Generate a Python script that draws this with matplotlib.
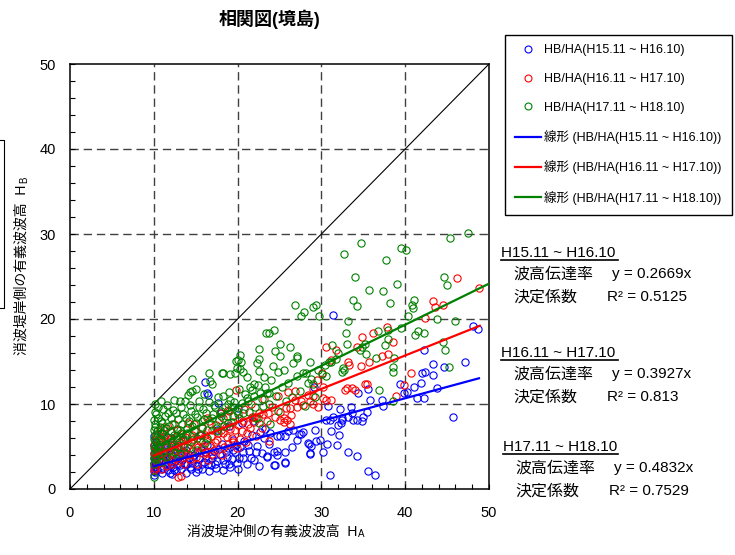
import matplotlib

matplotlib.use("Agg")

from matplotlib import pyplot as plt
from matplotlib.lines import Line2D
from matplotlib.ticker import MultipleLocator

plt.rcParams["font.family"] = ["Liberation Sans", "Noto Sans CJK JP"]

TITLE = "相関図(境島)"
X_LABEL = "消波堤沖側の有義波波高  H"
Y_LABEL = "消波堤岸側の有義波波高  H"
PERIODS = ["H15.11 ~ H16.10", "H16.11 ~ H17.10", "H17.11 ~ H18.10"]
SCATTER_LABELS = ["HB/HA(H15.11 ~ H16.10)", "HB/HA(H16.11 ~ H17.10)", "HB/HA(H17.11 ~ H18.10)"]
TREND_LABELS = ["線形 (HB/HA(H15.11 ~ H16.10))", "線形 (HB/HA(H16.11 ~ H17.10))", "線形 (HB/HA(H17.11 ~ H18.10))"]
SLOPES = [0.2669, 0.3927, 0.4832]
R2_TEXT = ["0.5125", "0.813", "0.7529"]
TREND_X_MIN = [10.0, 10.0, 10.0]
TREND_X_MAX = [48.8, 48.9, 50.0]
COLORS = ["#0000ff", "#ff0000", "#008000"]

blue_points = [
    (10.0, 1.6), (10.0, 2.1), (10.1, 2.6), (10.0, 3.1), (10.2, 3.6), (10.0, 4.2), (10.1, 4.8), (10.3, 5.5),
    (10.0, 6.2), (10.4, 2.3), (10.5, 2.9), (10.6, 3.4), (10.8, 4.0), (10.7, 4.6), (11.0, 1.9), (11.1, 2.5),
    (11.3, 3.1), (11.2, 3.8), (11.5, 4.4), (11.4, 5.3), (11.7, 2.2), (11.9, 2.8), (11.8, 3.5), (12.0, 4.1),
    (12.2, 1.8), (12.3, 2.6), (12.5, 3.3), (12.4, 4.7), (12.7, 2.1), (12.9, 3.0), (13.0, 3.8), (13.2, 2.4),
    (13.4, 3.4), (13.6, 4.4), (13.8, 1.9), (14.0, 2.9), (14.2, 3.6), (14.4, 2.3), (14.6, 3.1), (14.8, 4.0),
    (15.0, 2.0), (15.2, 2.7), (15.4, 3.5), (15.6, 4.6), (15.8, 2.4), (16.0, 3.2), (16.1, 12.6), (16.3, 11.3),
    (16.5, 11.1), (16.2, 3.9), (16.4, 5.2), (16.6, 2.1), (16.8, 2.8), (17.0, 3.6), (17.2, 4.5), (17.4, 2.5),
    (17.7, 10.1), (17.6, 3.3), (17.9, 4.1), (18.1, 5.3), (18.3, 2.2), (18.5, 3.0), (18.7, 3.8), (18.9, 4.8),
    (19.1, 2.6), (19.3, 3.5), (19.5, 5.8), (19.7, 4.3), (19.9, 3.1), (20.1, 2.4), (20.3, 4.9), (20.6, 3.7),
    (20.8, 5.6), (21.1, 2.9), (21.4, 4.5), (21.7, 6.4), (22.0, 3.4), (22.3, 5.1), (22.6, 2.7), (22.9, 4.2),
    (23.2, 6.0), (23.5, 3.9), (23.8, 5.3), (24.3, 4.4), (24.3, 2.8), (24.7, 4.5), (25.7, 4.4), (25.7, 3.1),
    (26.5, 5.0), (25.0, 6.2), (26.0, 6.8), (27.3, 6.5), (27.8, 6.7), (28.5, 5.3), (28.8, 5.1), (28.6, 4.1),
    (29.2, 6.9), (29.4, 5.6), (29.1, 12.0), (30.2, 4.3), (30.7, 5.3), (31.0, 1.7), (31.0, 8.1), (30.8, 9.8),
    (31.2, 6.8), (31.4, 20.5), (31.9, 5.2), (32.0, 7.5), (32.1, 6.4), (32.2, 9.4), (32.3, 7.8), (32.5, 8.3),
    (33.2, 4.3), (33.5, 9.7), (33.6, 8.9), (33.8, 8.1), (34.3, 3.9), (34.4, 11.3), (34.8, 8.0), (35.6, 11.8),
    (35.6, 2.1), (35.8, 10.5), (36.4, 1.7), (37.2, 10.5), (37.3, 9.8), (39.4, 12.3), (39.9, 11.3), (40.2, 11.4),
    (41.0, 12.0), (41.4, 10.7), (41.9, 12.5), (42.0, 13.6), (42.3, 10.7), (42.3, 16.3), (42.4, 13.8), (43.3, 13.4),
    (43.3, 14.7), (43.8, 11.9), (44.6, 14.4), (45.7, 8.5), (47.1, 15.0), (48.1, 19.2), (48.7, 18.8),
    (22.7, 6.7), (23.3, 7.1), (23.9, 6.6), (24.7, 6.2), (25.7, 6.2), (26.6, 6.9), (27.1, 5.8), (27.6, 6.5),
    (28.4, 5.4), (29.8, 5.8), (30.6, 8.1), (31.4, 8.5), (32.4, 8.1), (33.2, 8.5), (34.2, 8.1), (35.0, 8.5),
    (35.4, 9.1), (23.5, 3.8), (24.7, 4.0), (24.5, 2.8), (25.7, 3.2), (28.6, 4.2), (15.5, 6.4), (17.5, 7.0),
    (19.0, 7.4), (20.5, 7.8), (21.8, 8.0), (13.5, 5.8), (12.0, 6.0), (11.0, 6.6), (18.0, 9.0), (20.0, 9.5),
    (10.1, 2.0), (10.2, 3.3), (10.3, 4.0), (10.5, 5.0), (10.9, 2.3), (11.1, 3.4), (11.3, 4.7), (11.6, 3.0),
    (11.9, 1.9), (12.1, 3.2), (12.4, 2.2), (12.6, 3.7), (12.8, 4.9), (13.1, 2.8), (13.3, 4.0), (13.7, 3.0),
    (13.9, 4.6), (14.3, 2.6), (14.7, 3.5), (15.1, 4.3), (15.3, 2.3), (15.7, 3.0), (16.1, 4.4), (16.5, 3.0),
    (16.9, 4.0), (17.3, 3.0), (17.8, 4.7), (18.2, 3.4), (18.6, 4.3), (19.0, 3.0), (19.4, 4.6), (19.8, 5.2),
    (20.2, 3.6), (20.7, 4.3), (21.2, 5.2), (21.6, 3.6), (22.2, 4.4), (10.0, 2.6), (10.0, 3.7), (10.0, 5.2),
]

red_points = [
    (10.0, 2.2), (10.0, 2.9), (10.1, 3.5), (10.0, 4.1), (10.2, 4.6), (10.0, 5.2), (10.1, 5.8), (10.3, 6.4),
    (10.4, 3.1), (10.5, 3.9), (10.6, 4.8), (10.8, 5.5), (10.7, 7.0), (11.0, 3.4), (11.1, 4.3), (11.3, 5.0),
    (11.2, 6.1), (11.5, 2.7), (11.6, 3.8), (11.8, 4.6), (11.7, 5.6), (12.0, 6.7), (12.1, 3.3), (12.3, 4.2),
    (12.5, 5.1), (12.4, 7.6), (12.9, 1.4), (13.2, 1.5), (12.8, 3.7), (13.0, 4.7), (13.2, 5.7), (13.4, 6.5),
    (13.6, 2.9), (13.8, 4.0), (14.0, 5.0), (14.1, 7.8), (14.3, 3.5), (14.5, 4.5), (14.7, 5.9), (14.9, 6.8),
    (15.1, 3.0), (15.3, 4.9), (15.5, 5.6), (15.7, 7.2), (15.9, 4.2), (16.1, 6.3), (16.3, 8.4), (16.5, 3.4),
    (16.7, 5.2), (16.9, 6.9), (17.2, 4.6), (17.4, 7.5), (17.6, 5.8), (17.9, 8.9), (18.1, 4.0), (18.3, 6.6),
    (18.6, 7.3), (18.8, 5.3), (19.0, 9.2), (19.3, 6.0), (19.5, 7.9), (19.8, 11.6), (19.9, 4.8), (20.2, 8.3),
    (20.5, 6.8), (20.8, 9.4), (21.0, 5.5), (21.3, 7.6), (21.6, 10.0), (21.9, 8.5), (22.2, 6.2), (22.6, 9.0),
    (22.9, 7.2), (23.2, 10.6), (23.5, 8.0), (23.8, 5.7), (24.1, 9.6), (24.5, 8.5), (24.8, 10.9), (25.1, 8.1),
    (25.5, 7.9), (25.8, 9.5), (26.4, 8.7), (26.0, 11.4), (26.9, 10.5), (26.9, 11.5), (27.6, 10.3), (27.8, 9.9),
    (28.4, 11.1), (29.0, 10.9), (29.0, 10.0), (29.0, 11.8), (29.5, 12.8), (30.1, 13.6), (30.2, 12.0), (30.6, 10.5),
    (31.2, 10.5), (30.6, 16.7), (31.8, 16.4), (31.2, 15.2), (33.1, 11.9), (33.6, 11.9), (33.2, 14.9), (33.3, 14.6),
    (34.2, 16.7), (34.7, 14.5), (34.8, 17.9), (35.2, 12.4), (35.5, 12.4), (35.7, 14.9), (36.1, 18.4), (37.2, 15.7),
    (37.9, 15.9), (37.8, 19.1), (38.6, 17.3), (38.9, 10.9), (39.9, 12.2), (40.7, 13.7), (42.4, 20.1), (43.3, 22.1),
    (43.6, 21.4), (44.5, 21.7), (46.2, 24.8), (48.8, 23.7), (30.2, 10.7), (29.6, 9.7), (28.6, 10.3), (27.1, 9.7),
    (26.3, 9.5), (25.1, 9.1), (25.5, 8.3), (25.9, 8.1), (26.3, 7.7), (32.8, 11.6), (34.0, 11.6), (18.8, 9.3),
    (21.7, 8.5), (10.2, 2.5), (10.4, 4.4), (10.6, 5.3), (10.9, 6.0), (11.0, 2.4), (11.4, 3.5), (11.6, 4.9),
    (11.9, 5.9), (12.2, 2.9), (12.6, 4.5), (12.8, 5.9), (13.1, 3.3), (13.3, 4.3), (13.5, 5.2), (13.7, 6.1),
    (14.2, 4.0), (14.4, 5.5), (14.6, 6.3), (15.0, 3.8), (15.2, 5.2), (15.6, 6.4), (15.8, 5.0), (16.2, 4.4),
    (16.4, 5.8), (16.8, 6.2), (17.0, 4.1), (17.3, 5.5), (17.7, 6.6), (18.0, 7.0), (18.4, 5.0), (18.7, 6.1),
    (19.1, 7.1), (19.4, 5.5), (19.7, 6.9), (20.0, 7.5), (20.3, 5.9), (20.7, 8.0), (21.1, 6.6), (21.5, 7.2),
    (22.0, 7.9), (22.4, 8.4), (23.0, 8.8), (23.6, 9.0), (11.2, 7.3), (12.8, 7.0), (14.8, 7.6), (16.6, 8.0),
    (18.2, 8.4),
]

green_points = [
    (10.0, 1.4), (10.0, 3.0), (10.0, 3.6), (10.1, 4.2), (10.0, 4.8), (10.2, 5.3), (10.0, 5.9), (10.1, 6.4),
    (10.0, 7.0), (10.2, 7.6), (10.0, 8.1), (10.1, 9.1), (10.1, 10.0), (10.3, 3.4), (10.4, 4.5), (10.5, 5.1),
    (10.6, 6.0), (10.4, 6.8), (10.7, 7.3), (10.5, 8.4), (10.9, 10.3), (10.8, 4.0), (11.0, 5.6), (11.1, 6.5),
    (11.2, 7.0), (11.0, 7.8), (11.3, 8.6), (11.4, 3.8), (11.5, 4.9), (11.6, 6.1), (11.8, 7.4), (11.7, 8.9),
    (12.0, 5.2), (12.1, 6.8), (12.2, 7.7), (12.4, 10.5), (12.3, 9.3), (12.5, 4.4), (12.6, 6.0), (12.8, 7.1),
    (12.9, 8.2), (13.0, 5.5), (13.1, 10.3), (13.2, 6.6), (13.4, 7.6), (13.5, 8.8), (13.7, 10.4), (13.6, 5.0),
    (13.9, 6.3), (14.0, 7.2), (14.1, 11.1), (14.3, 11.4), (14.5, 11.5), (14.5, 12.9), (14.2, 8.0), (14.4, 9.2),
    (14.6, 5.8), (14.8, 6.9), (15.0, 7.8), (15.2, 8.5), (15.4, 9.6), (15.1, 4.6), (15.6, 6.4), (15.8, 7.3),
    (16.0, 8.2), (16.2, 9.0), (16.6, 13.7), (16.7, 12.7), (17.0, 12.4), (16.4, 6.0), (16.8, 7.6), (17.1, 8.8),
    (17.3, 9.6), (17.5, 6.8), (17.8, 8.1), (18.1, 13.7), (18.3, 13.6), (18.0, 9.2), (18.4, 7.4), (18.7, 8.6),
    (18.9, 10.0), (19.1, 13.5), (19.1, 10.5), (19.5, 9.7), (19.2, 7.9), (19.7, 13.6), (19.9, 14.2), (19.8, 15.1),
    (20.1, 15.2), (20.3, 15.8), (20.4, 14.9), (20.3, 14.1), (20.6, 13.8), (21.1, 13.2), (20.0, 8.8), (20.5, 10.1),
    (21.1, 10.7), (21.4, 9.1), (21.9, 10.9), (22.5, 16.5), (22.3, 14.8), (22.6, 15.3), (22.5, 13.9), (22.7, 11.3),
    (22.2, 8.4), (23.0, 9.8), (23.7, 11.3), (23.4, 18.4), (23.7, 18.3), (24.3, 18.7), (24.5, 16.2), (25.1, 17.1),
    (24.2, 14.5), (24.8, 13.8), (25.3, 12.0), (25.8, 10.4), (26.3, 16.7), (27.1, 15.4), (26.8, 21.7), (27.6, 20.3),
    (27.9, 20.8), (27.8, 13.6), (27.1, 13.3), (28.2, 13.6), (28.4, 12.5), (28.6, 14.9), (29.0, 12.4), (29.0, 21.4),
    (29.4, 21.7), (29.7, 20.3), (30.1, 13.5), (30.5, 13.3), (30.9, 14.9), (31.3, 16.9), (32.0, 16.0), (32.4, 13.8),
    (32.6, 14.2), (32.7, 14.0), (32.7, 27.6), (32.9, 18.3), (33.1, 17.1), (33.2, 19.8), (33.8, 22.2), (34.0, 25.0),
    (34.2, 21.5), (34.6, 16.3), (34.7, 29.0), (34.8, 16.7), (35.2, 17.1), (35.3, 15.9), (35.7, 23.4), (36.5, 15.4),
    (36.7, 18.6), (36.9, 11.6), (37.4, 23.3), (37.6, 16.9), (37.7, 27.0), (37.9, 17.6), (38.0, 18.7), (38.2, 21.9),
    (38.5, 14.3), (38.6, 13.8), (38.5, 10.4), (38.7, 15.4), (39.0, 24.1), (39.5, 28.4), (39.5, 18.9), (40.1, 28.1),
    (40.3, 20.4), (40.8, 21.6), (40.9, 21.3), (41.0, 22.2), (41.2, 18.1), (41.5, 18.6), (42.2, 18.4), (43.8, 20.0),
    (44.5, 17.3), (44.6, 25.0), (44.8, 16.3), (45.0, 24.0), (45.2, 14.4), (45.4, 29.5), (46.0, 19.8), (47.5, 30.1),
    (28.8, 13.0), (29.6, 14.0), (30.4, 14.6), (31.2, 14.9), (31.7, 15.3), (26.0, 12.5), (24.0, 12.8), (23.2, 13.2),
    (25.5, 14.0), (27.5, 11.5), (22.0, 12.3), (21.5, 12.0), (23.8, 10.0), (24.6, 11.0), (26.5, 10.8), (28.0, 9.8),
    (29.2, 10.8), (23.9, 7.7), (22.5, 7.8), (24.8, 9.2), (25.1, 15.6), (26.6, 14.8), (27.1, 15.6), (23.5, 11.3),
    (10.2, 3.9), (10.3, 5.7), (10.1, 7.3), (10.3, 8.8), (10.5, 9.6), (10.6, 4.3), (10.8, 6.6), (10.9, 8.0),
    (11.1, 9.4), (11.3, 5.2), (11.5, 7.2), (11.6, 9.9), (11.9, 4.6), (12.0, 8.3), (12.2, 5.6), (12.4, 6.4),
    (12.7, 9.0), (12.9, 4.9), (13.1, 7.0), (13.3, 9.6), (13.5, 5.9), (13.8, 8.3), (14.0, 6.6), (14.3, 9.9),
    (14.6, 7.4), (14.9, 8.8), (15.2, 6.0), (15.4, 10.4), (15.7, 8.0), (15.9, 9.4), (16.1, 5.4), (16.3, 7.0),
    (16.6, 10.2), (16.9, 8.3), (17.2, 9.9), (17.4, 7.2), (17.7, 10.8), (18.0, 8.6), (18.2, 11.0), (18.5, 9.6),
    (18.8, 7.8), (19.0, 11.4), (19.4, 8.6), (19.6, 10.2), (19.9, 9.2), (20.2, 11.8), (20.6, 9.0), (20.9, 11.2),
    (21.3, 10.4), (21.7, 11.6), (22.1, 9.6), (22.4, 12.2), (22.9, 10.6), (23.3, 12.0), (12.0, 3.6), (13.0, 4.1),
    (14.2, 4.8), (11.0, 3.2), (16.0, 11.2), (15.0, 11.8),
]

FIG_W, FIG_H = 735, 555


def fig_xy(px, py):
    return px / FIG_W, 1 - py / FIG_H


def main():
    fig = plt.figure(figsize=(FIG_W / 100, FIG_H / 100), dpi=100)
    ax = fig.add_axes([70 / FIG_W, 66 / FIG_H, 419 / FIG_W, 425 / FIG_H])

    ax.set_xlim(0, 50)
    ax.set_ylim(0, 50)
    ax.xaxis.set_major_locator(MultipleLocator(10))
    ax.yaxis.set_major_locator(MultipleLocator(10))
    ax.xaxis.set_minor_locator(MultipleLocator(2))
    ax.yaxis.set_minor_locator(MultipleLocator(2))
    ax.tick_params(which="both", direction="in", length=3.5, width=0.8, top=False, right=False)
    ax.tick_params(axis="x", which="major", labelsize=10.5, pad=12)
    ax.tick_params(axis="y", which="major", labelsize=10.5, pad=10)
    for spine in ax.spines.values():
        spine.set_linewidth(1.1)
    for v in (10, 20, 30, 40):
        ax.axvline(v, color="#404040", linewidth=1.0, dashes=(6, 3.5), zorder=0)
        ax.axhline(v, color="#404040", linewidth=1.0, dashes=(6, 3.5), zorder=0)

    ax.plot([0, 50], [0, 50], color="black", linewidth=0.8, zorder=1)

    handles = []
    for points, color in zip([blue_points, red_points, green_points], COLORS):
        xs = [p[0] for p in points]
        ys = [p[1] for p in points]
        ax.plot(xs, ys, linestyle="none", marker="o", markersize=5.2, markerfacecolor="none",
                markeredgecolor=color, markeredgewidth=0.8, zorder=2)
        handles.append(Line2D([], [], linestyle="none", marker="o", markersize=5, markerfacecolor="none",
                              markeredgecolor=color, markeredgewidth=0.8))
    for slope, x0, x1, color in zip(SLOPES, TREND_X_MIN, TREND_X_MAX, COLORS):
        ax.plot([x0, x1], [slope * x0, slope * x1], color=color, linewidth=1.6, zorder=3)
        handles.append(Line2D([], [], color=color, linewidth=1.6))

    legend = fig.legend(handles, SCATTER_LABELS + TREND_LABELS, loc="upper left",
                        bbox_to_anchor=fig_xy(504.5, 34.5), borderaxespad=0, fontsize=9,
                        labelspacing=1.32, handlelength=2.1, handletextpad=0.3, borderpad=0.8,
                        fancybox=False, edgecolor="black", framealpha=1)
    legend.get_frame().set_linewidth(1.0)

    fig.text(*fig_xy(270, 19), TITLE, ha="center", va="center", fontsize=13, fontweight="bold")

    xl = fig.text(*fig_xy(272, 532), X_LABEL, ha="center", va="center", fontsize=10)
    ax.annotate("A", xy=(1, 0), xycoords=xl, xytext=(0.5, 0), textcoords="offset points",
                fontsize=7, ha="left", va="bottom")
    yl = fig.text(*fig_xy(22, 270), Y_LABEL, ha="center", va="center", fontsize=10, rotation=90)
    ax.annotate("B", xy=(1, 1), xycoords=yl, xytext=(0, 1), textcoords="offset points",
                fontsize=7, ha="right", va="bottom", rotation=90)

    # stray box edge at the left border of the original
    fig.add_artist(Line2D([0, 4 / FIG_W, 4 / FIG_W, 0], [1 - 140 / FIG_H, 1 - 140 / FIG_H, 1 - 308 / FIG_H, 1 - 308 / FIG_H],
                          transform=fig.transFigure, color="black", linewidth=0.8))

    header_y = [253, 353, 447]
    header_x = [501, 501, 503]
    for i, period in enumerate(PERIODS):
        hx, hy = header_x[i], header_y[i]
        fig.text(*fig_xy(hx, hy), period, ha="left", va="center", fontsize=11)
        fig.add_artist(Line2D([hx / FIG_W, 618 / FIG_W], [1 - (hy + 7) / FIG_H] * 2,
                              transform=fig.transFigure, color="black", linewidth=1.2))
        fig.text(*fig_xy(hx + 12, hy + 21), "波高伝達率", ha="left", va="center", fontsize=11.5)
        fig.text(*fig_xy(hx + 111, hy + 21), f"y = {SLOPES[i]}x", ha="left", va="center", fontsize=11)
        fig.text(*fig_xy(hx + 12, hy + 44), "決定係数", ha="left", va="center", fontsize=11.5)
        fig.text(*fig_xy(hx + 106, hy + 44), f"R² = {R2_TEXT[i]}", ha="left", va="center", fontsize=11)

    fig.savefig("out.png", dpi=100)
    plt.close(fig)


if __name__ == "__main__":
    main()
